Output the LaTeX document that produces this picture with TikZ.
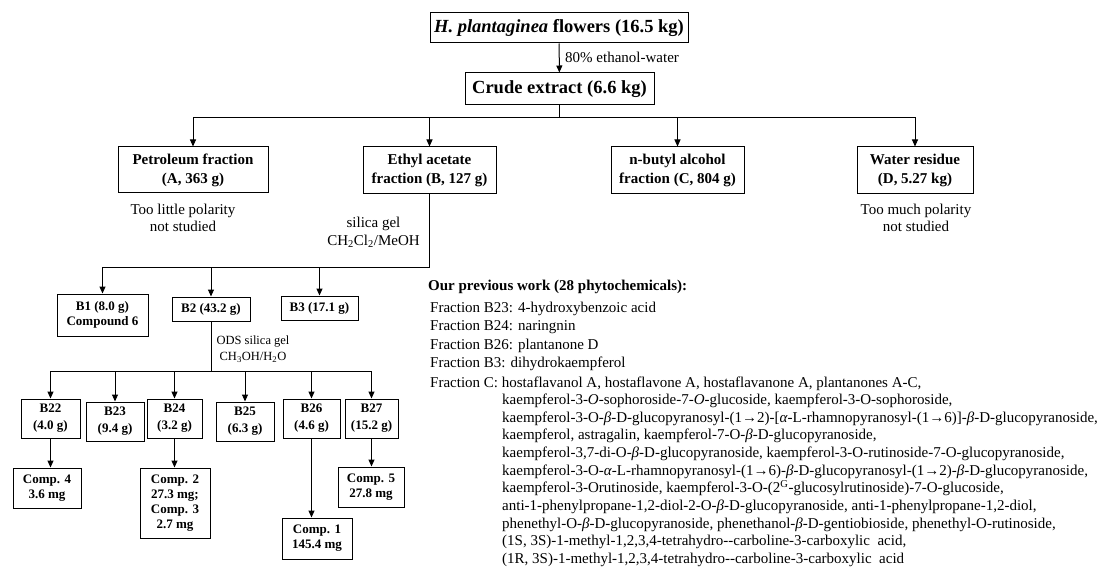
\documentclass[tikz,border=0pt]{standalone}
\usepackage{fontspec}
\setmainfont{Liberation Serif}
\usetikzlibrary{arrows.meta}
\begin{document}
\begin{tikzpicture}[x=1pt,y=-1pt,
  box/.style={draw, line width=1pt, inner sep=0pt, align=center},
  fbig/.style={font=\bfseries\fontsize{18.5}{22}\selectfont},
  fmid/.style={font=\bfseries\fontsize{15}{19}\selectfont},
  fB/.style={font=\bfseries\fontsize{13}{15}\selectfont},
  fBB/.style={font=\bfseries\fontsize{13}{17}\selectfont},
  arr/.style={line width=1pt, -{Triangle[length=7pt,width=6pt]}},
  conn/.style={line width=1pt},
  lbl/.style={inner sep=0pt, align=center, font=\fontsize{15}{17}\selectfont},
  slbl/.style={inner sep=0pt, align=center, font=\fontsize{12.5}{16}\selectfont},
  lst/.style={inner sep=0pt, anchor=base west, font=\fontsize{15}{17}\selectfont}
]
\useasboundingbox (0,0) rectangle (1108,572);

% top levels
\node[box,fbig,minimum width=258pt,minimum height=30pt] (top) at (559,28) {\textit{H. plantaginea} flowers (16.5 kg)};
\node[box,fbig,minimum width=189pt,minimum height=32pt] (crude) at (559.5,89) {Crude extract (6.6 kg)};
\draw[arr] (top) -- (crude);
\node[lbl,anchor=west] (eth) at (565,57) {80\% ethanol-water};

\node[box,fmid,minimum width=150pt,minimum height=46pt] (pet) at (193,170) {Petroleum fraction\\(A, 363 g)};
\node[box,fmid,minimum width=133pt,minimum height=47pt] (ea) at (429.5,170.5) {Ethyl acetate\\fraction (B, 127 g)};
\node[box,fmid,minimum width=133pt,minimum height=47pt] (nb) at (677.5,170.5) {n-butyl alcohol\\fraction (C, 804 g)};
\node[box,fmid,minimum width=116pt,minimum height=47pt] (wr) at (915,170.5) {Water residue\\(D, 5.27 kg)};

\coordinate (jA) at (559.5,118);
\draw[conn] (crude.south) -- (jA);
\draw[arr] (jA) -| (pet);
\draw[arr] (jA) -| (ea);
\draw[arr] (jA) -| (nb);
\draw[arr] (jA) -| (wr);

\node[lbl] (tl) at (183,217.5) {Too little polarity\\not studied};
\node[lbl] (tm) at (916,217.5) {Too much polarity\\not studied};

% B level
\node[box,fB,minimum width=91pt,minimum height=42pt] (B1) at (102.5,315) {B1 (8.0 g)\\Compound 6};
\node[box,fB,minimum width=78pt,minimum height=24pt] (B2) at (211,309) {B2 (43.2 g)};
\node[box,fB,minimum width=77pt,minimum height=24pt] (B3) at (319.5,308) {B3 (17.1 g)};

\coordinate (jB) at (429.5,267);
\draw[conn] (ea.south) -- (jB);
\draw[arr] (jB) -| (B1);
\draw[arr] (jB) -| (B2);
\draw[arr] (jB) -| (B3);
\node[lbl,font=\fontsize{15}{18}\selectfont] (sg) at (373.5,232) {silica gel\\CH\textsubscript{2}Cl\textsubscript{2}/MeOH};

% B2 subfractions
\node[box,fBB,minimum width=59pt,minimum height=39pt] (B22) at (50.5,418.5) {B22\\(4.0 g)};
\node[box,fBB,minimum width=58pt,minimum height=39pt] (B23) at (115,421.5) {B23\\(9.4 g)};
\node[box,fBB,minimum width=55pt,minimum height=39pt] (B24) at (174.5,418.5) {B24\\(3.2 g)};
\node[box,fBB,minimum width=58pt,minimum height=39pt] (B25) at (245,421.5) {B25\\(6.3 g)};
\node[box,fBB,minimum width=57pt,minimum height=39pt] (B26) at (311.5,418.5) {B26\\(4.6 g)};
\node[box,fBB,minimum width=53pt,minimum height=39pt] (B27) at (371.5,418.5) {B27\\(15.2 g)};

\coordinate (jC) at (211,371);
\draw[conn] (B2.south) -- (jC);
\draw[arr] (jC) -| (B22);
\draw[arr] (jC) -| (B23);
\draw[arr] (jC) -| (B24);
\draw[arr] (jC) -| (B25);
\draw[arr] (jC) -| (B26);
\draw[arr] (jC) -| (B27);
\node[slbl] (ods) at (253,349) {ODS silica gel\\CH\textsubscript{3}OH/H\textsubscript{2}O};

% compounds
\node[box,fB,minimum width=68pt,minimum height=40pt] (C4) at (47,488) {Comp. 4\\3.6 mg};
\node[box,fB,minimum width=70pt,minimum height=70pt] (C23) at (175,503) {Comp. 2\\27.3 mg;\\Comp. 3\\2.7 mg};
\node[box,fB,minimum width=70pt,minimum height=41pt] (C1) at (317,538.5) {Comp. 1\\145.4 mg};
\node[box,fB,minimum width=66pt,minimum height=40pt] (C5) at (371,487) {Comp. 5\\27.8 mg};

\draw[arr] (B22.south) -- (B22.south |- C4.north);
\draw[arr] (B24.south) -- (B24.south |- C23.north);
\draw[arr] (B26.south) -- (B26.south |- C1.north);
\draw[arr] (B27.south) -- (B27.south |- C5.north);

% previous work list
\node[lst,font=\bfseries\fontsize{15}{17}\selectfont] (h) at (428,290) {Our previous work (28 phytochemicals):};
\node[lst] (l1) at (430,312) {Fraction B23: 4-hydroxybenzoic acid};
\node[lst] (l2) at (430,330) {Fraction B24: naringnin};
\node[lst] (l3) at (430,349) {Fraction B26: plantanone D};
\node[lst] (l4) at (430,367) {Fraction B3: dihydrokaempferol};
\node[lst] (l5) at (430,387) {Fraction C: hostaflavanol A, hostaflavone A, hostaflavanone A, plantanones A-C,};
\node[lst] (l6) at (502,404.5) {kaempferol-3-\textit{O}-sophoroside-7-\textit{O}-glucoside, kaempferol-3-O-sophoroside,};
\node[lst] (l7) at (502,422) {kaempferol-3-O-\textit{β}-D-glucopyranosyl-(1→2)-[\textit{α}-L-rhamnopyranosyl-(1→6)]-\textit{β}-D-glucopyranoside,};
\node[lst] (l8) at (502,439.5) {kaempferol, astragalin, kaempferol-7-O-\textit{β}-D-glucopyranoside,};
\node[lst] (l9) at (502,457) {kaempferol-3,7-di-O-\textit{β}-D-glucopyranoside, kaempferol-3-O-rutinoside-7-O-glucopyranoside,};
\node[lst] (l10) at (502,475) {kaempferol-3-O-\textit{α}-L-rhamnopyranosyl-(1→6)-\textit{β}-D-glucopyranosyl-(1→2)-\textit{β}-D-glucopyranoside,};
\node[lst] (l11) at (502,492.5) {kaempferol-3-Orutinoside, kaempferol-3-O-(2\textsuperscript{G}-glucosylrutinoside)-7-O-glucoside,};
\node[lst] (l12) at (502,510) {anti-1-phenylpropane-1,2-diol-2-O-\textit{β}-D-glucopyranoside, anti-1-phenylpropane-1,2-diol,};
\node[lst] (l13) at (502,528) {phenethyl-O-\textit{β}-D-glucopyranoside, phenethanol-\textit{β}-D-gentiobioside, phenethyl-O-rutinoside,};
\node[lst] (l14) at (502,545.5) {(1S, 3S)-1-methyl-1,2,3,4-tetrahydro-{}-carboline-3-carboxylic\ \ acid,};
\node[lst] (l15) at (502,563) {(1R, 3S)-1-methyl-1,2,3,4-tetrahydro-{}-carboline-3-carboxylic\ \ acid};
\end{tikzpicture}
\end{document}
